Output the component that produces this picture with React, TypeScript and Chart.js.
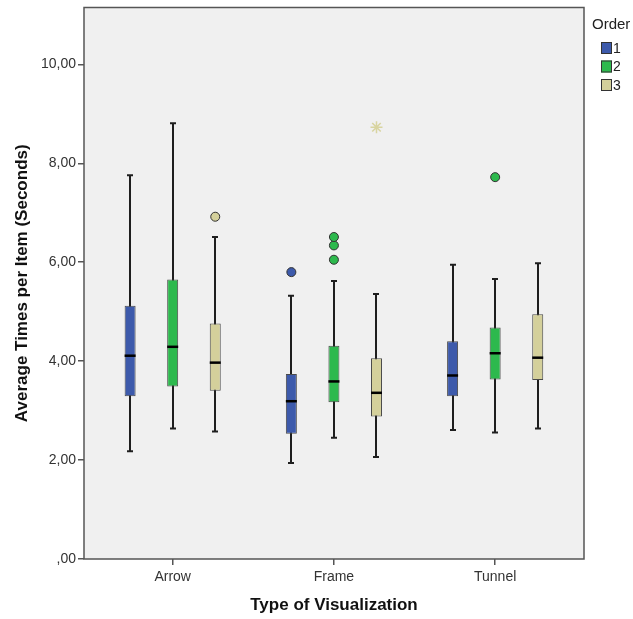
import React, { useEffect, useRef } from "react";
import { Chart, registerables } from "chart.js";

Chart.register(...registerables);

const categories = ["Arrow", "Frame", "Tunnel"];
const orderLabels = ["1", "2", "3"];
const yTickValues = [0, 2, 4, 6, 8, 10];

// five-number summaries per category: [lower whisker, Q1, median, Q3, upper whisker]
const order1Box = [
  [2.18, 3.29, 4.11, 5.12, 7.76],
  [1.94, 2.53, 3.19, 3.74, 5.32],
  [2.61, 3.29, 3.71, 4.4, 5.95],
];
const order2Box = [
  [2.64, 3.49, 4.29, 5.65, 8.81],
  [2.45, 3.17, 3.59, 4.31, 5.62],
  [2.56, 3.63, 4.16, 4.68, 5.66],
];
const order3Box = [
  [2.58, 3.4, 3.97, 4.76, 6.51],
  [2.06, 2.88, 3.36, 4.06, 5.36],
  [2.64, 3.62, 4.07, 4.95, 5.98],
];
const order1Outliers = [[], [5.8], []];
const order2Outliers = [[], [6.05, 6.34, 6.51], [7.72]];
const order3Outliers = [[6.92], [], []];
const order3Extremes = [[], [8.73], []];

const boxes = [order1Box, order2Box, order3Box];
const outliers = [order1Outliers, order2Outliers, order3Outliers];
const colors = ["#3d5aab", "#2db94d", "#d4d09b"];
const GROUP_OFFSET = 0.264;
const BOX_W = 11;
const FONT = "'Liberation Sans', Arial, sans-serif";

// d is the 0-based order index
const xPos = (cat: number, d: number) => cat + (d - 1) * GROUP_OFFSET;

const boxPlugin = {
  id: "boxExtras",
  beforeDraw(chart: any) {
    const { ctx, chartArea: a } = chart;
    ctx.save();
    ctx.fillStyle = "#f0f0f0";
    ctx.fillRect(a.left, a.top, a.right - a.left, a.bottom - a.top);
    ctx.restore();
  },
  beforeDatasetsDraw(chart: any) {
    const { ctx } = chart;
    const xs = chart.scales.x;
    const ys = chart.scales.y;
    ctx.save();
    ctx.strokeStyle = "#1e1e1e";
    ctx.lineWidth = 2;
    boxes.forEach((stats, d) =>
      stats.forEach((s, i) => {
        const px = Math.round(xs.getPixelForValue(xPos(i, d)));
        const yLo = ys.getPixelForValue(s[0]);
        const yHi = ys.getPixelForValue(s[4]);
        ctx.beginPath();
        ctx.moveTo(px, yLo);
        ctx.lineTo(px, yHi);
        ctx.moveTo(px - 3, yLo);
        ctx.lineTo(px + 3, yLo);
        ctx.moveTo(px - 3, yHi);
        ctx.lineTo(px + 3, yHi);
        ctx.stroke();
      })
    );
    ctx.restore();
  },
  afterDatasetsDraw(chart: any) {
    const { ctx } = chart;
    const xs = chart.scales.x;
    const ys = chart.scales.y;
    ctx.save();
    ctx.strokeStyle = "#000";
    ctx.lineWidth = 2.5;
    boxes.forEach((stats, d) =>
      stats.forEach((s, i) => {
        const px = xs.getPixelForValue(xPos(i, d));
        const ym = ys.getPixelForValue(s[2]);
        ctx.beginPath();
        ctx.moveTo(px - BOX_W / 2, ym);
        ctx.lineTo(px + BOX_W / 2, ym);
        ctx.stroke();
      })
    );
    ctx.restore();
  },
  afterDraw(chart: any) {
    const { ctx, chartArea: a } = chart;
    ctx.save();
    ctx.strokeStyle = "#555";
    ctx.lineWidth = 1.5;
    ctx.strokeRect(a.left, a.top, a.right - a.left, a.bottom - a.top);
    // legend
    ctx.fillStyle = "#222";
    ctx.font = `15px ${FONT}`;
    ctx.textBaseline = "middle";
    ctx.textAlign = "left";
    ctx.fillText("Order", 592, 25);
    ctx.font = `14px ${FONT}`;
    orderLabels.forEach((lab, k) => {
      const cy = 48 + k * 18.5;
      ctx.fillStyle = colors[k];
      ctx.fillRect(601, cy - 6, 11, 12);
      ctx.strokeStyle = "#333";
      ctx.lineWidth = 1;
      ctx.strokeRect(601.5, cy - 5.5, 10, 11);
      ctx.fillStyle = "#222";
      ctx.fillText(lab, 613, cy + 1);
    });
    ctx.restore();
  },
};

export default function App() {
  const ref = useRef<HTMLCanvasElement>(null);
  useEffect(() => {
    if (!ref.current) return;
    const datasets: any[] = [];
    boxes.forEach((stats, d) => {
      datasets.push({
        type: "bar",
        label: orderLabels[d],
        data: stats.map((s, i) => ({ x: xPos(i, d), y: [s[1], s[3]] })),
        backgroundColor: colors[d],
        borderColor: "#4a4a4a",
        borderWidth: 1,
        borderSkipped: false,
        grouped: false,
        maxBarThickness: BOX_W,
        order: 2,
      });
    });
    outliers.forEach((list, d) => {
      const pts: any[] = [];
      list.forEach((vals, i) => vals.forEach((v) => pts.push({ x: xPos(i, d), y: v })));
      datasets.push({
        type: "scatter",
        label: "out" + d,
        data: pts,
        pointRadius: 4.5,
        pointBackgroundColor: colors[d],
        pointBorderColor: "#333",
        pointBorderWidth: 1,
        order: 1,
      });
    });
    const ext: any[] = [];
    order3Extremes.forEach((vals, i) => vals.forEach((v) => ext.push({ x: xPos(i, 2), y: v })));
    datasets.push({
      type: "scatter",
      label: "extreme3",
      data: ext,
      pointStyle: "star",
      pointRadius: 6,
      pointBorderColor: "#d8d4a0",
      pointBackgroundColor: "#d8d4a0",
      pointBorderWidth: 1.5,
      order: 1,
    });

    const chart = new Chart(ref.current, {
      type: "bar",
      data: { datasets },
      plugins: [boxPlugin],
      options: {
        animation: false,
        responsive: false,
        devicePixelRatio: 1,
        events: [],
        layout: { padding: { top: 6, right: 49, left: 0, bottom: 0 } },
        plugins: { legend: { display: false }, tooltip: { enabled: false } },
        scales: {
          x: {
            type: "linear",
            offset: false,
            min: -0.55,
            max: 2.551,
            afterBuildTicks: (s: any) => {
              s.ticks = categories.map((_, i) => ({ value: i }));
            },
            afterFit: (s: any) => {
              s.height = 60;
              s.paddingLeft = 0;
              s.paddingRight = 0;
            },
            border: { display: false },
            grid: {
              offset: false,
              drawOnChartArea: false,
              drawTicks: true,
              tickLength: 6,
              color: "#555",
              lineWidth: 1.5,
            },
            ticks: {
              padding: 4,
              color: "#333",
              font: { family: FONT, size: 14 },
              callback: (v: any) => categories[Math.round(v)] ?? "",
            },
            title: {
              display: true,
              text: "Type of Visualization",
              color: "#111",
              font: { family: FONT, size: 17, weight: "bold" },
              padding: { top: 0, bottom: 3 },
            },
          },
          y: {
            type: "linear",
            min: 0,
            max: 11.15,
            afterBuildTicks: (s: any) => {
              s.ticks = yTickValues.map((v) => ({ value: v }));
            },
            afterFit: (s: any) => {
              s.width = 84;
              s.paddingTop = 0;
              s.paddingBottom = 0;
            },
            border: { display: false },
            grid: {
              drawOnChartArea: false,
              drawTicks: true,
              tickLength: 6,
              color: "#555",
              lineWidth: 1.5,
            },
            ticks: {
              padding: 2,
              color: "#333",
              font: { family: FONT, size: 14 },
              callback: (v: any) => (v === 0 ? ",00" : Number(v).toFixed(2).replace(".", ",")),
            },
            title: {
              display: true,
              text: "Average Times per Item (Seconds)",
              color: "#111",
              font: { family: FONT, size: 17, weight: "bold" },
              padding: { top: 12, bottom: 0 },
            },
          },
        },
      } as any,
    });
    return () => chart.destroy();
  }, []);
  return (
    <div style={{ position: "absolute", left: 0, top: 0, width: 633, height: 619 }}>
      <canvas ref={ref} width={633} height={619} style={{ display: "block" }} />
    </div>
  );
}
